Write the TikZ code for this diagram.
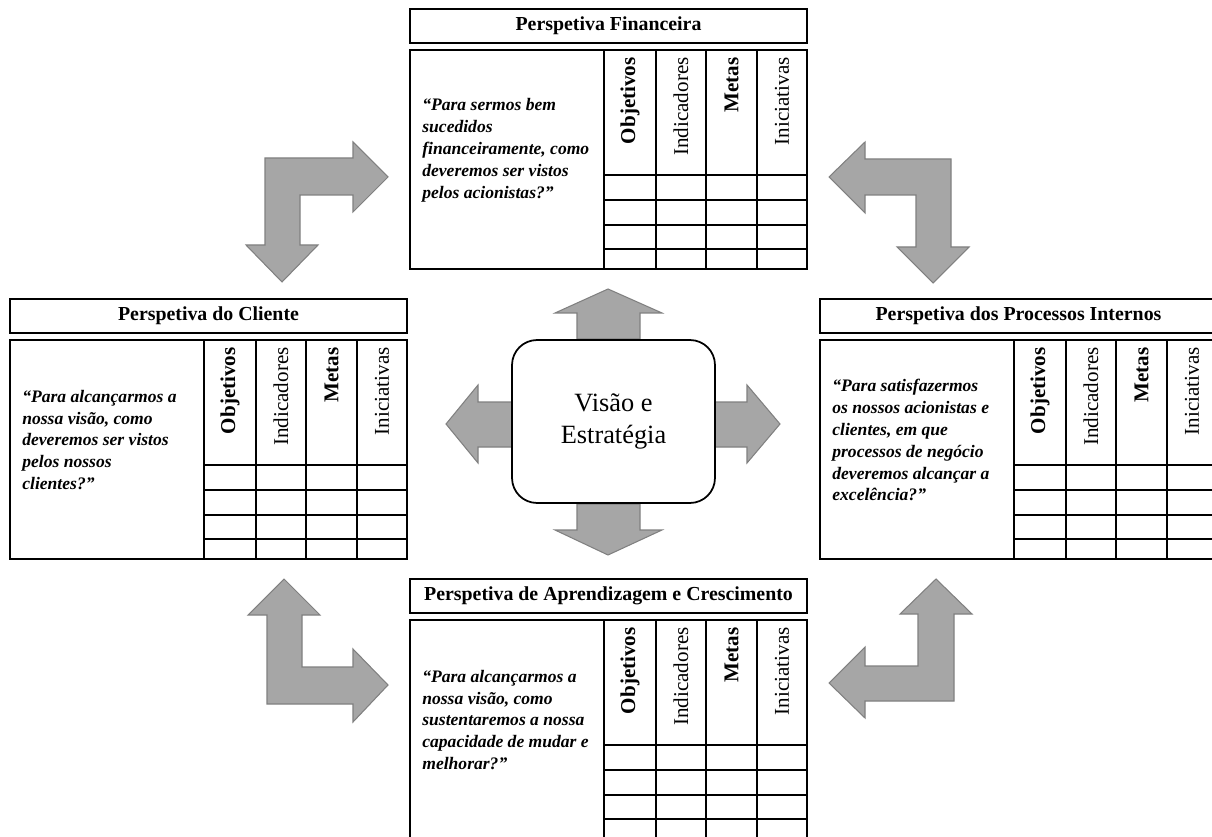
\documentclass[tikz,border=0pt]{standalone}
\usepackage{fontspec}
\setmainfont{Liberation Serif}

% one perspective: name, x, y (top of title box), title, question
\newcommand{\painel}[5]{%
  \begin{scope}[shift={(#2,#3)}]
    \node[titulo] (#1) at (198.5,17) {#4};
    \draw[caixa] (0,41) rectangle (397,260);
    \node[pergunta] (#1-q) at (12,141) {#5};
    \foreach \x in {194,246,296,347}
      \draw[grelha] (\x,41) -- (\x,260);
    \foreach \y in {166,191,216,240}
      \draw[grelha] (194,\y) -- (397,\y);
    \node[colunab] (#1-obj) at (220,48) {Objetivos};
    \node[coluna] (#1-ind) at (271,48) {Indicadores};
    \node[colunab] (#1-met) at (321.5,48) {Metas};
    \node[coluna] (#1-ini) at (372,48) {Iniciativas};
  \end{scope}}

\begin{document}
\begin{tikzpicture}[x=0.02cm,y=-0.02cm,
  titulo/.style={draw,line width=0.8pt,minimum width=7.94cm,minimum height=0.68cm,
    inner sep=0pt,font=\fontsize{11.3}{13}\selectfont\bfseries},
  caixa/.style={line width=1.4pt},
  grelha/.style={line width=1.1pt},
  pergunta/.style={anchor=west,align=left,inner sep=0pt,
    font=\fontsize{10}{12.5}\selectfont\bfseries\itshape},
  coluna/.style={rotate=90,anchor=east,inner sep=0pt,font=\fontsize{12}{14}\selectfont},
  colunab/.style={coluna,font=\fontsize{12}{14}\selectfont\bfseries},
  seta/.style={fill=black!35,draw=black!50,line width=0.6pt,line join=miter}]
  \useasboundingbox (0,0) rectangle (1212,837);
  \clip (0,0) rectangle (1212,837);

  % arrows round the centre
  \draw[seta] (577,339) -- (577,313) -- (555,313) -- (608,289) -- (662,313) -- (640,313) -- (640,339) -- cycle;
  \draw[seta] (577,504) -- (577,530) -- (555,530) -- (608,555) -- (662,530) -- (640,530) -- (640,504) -- cycle;
  \draw[seta] (513,402) -- (478,402) -- (478,385) -- (446,424) -- (478,463) -- (478,447) -- (513,447) -- cycle;
  \draw[seta] (714,402) -- (747,402) -- (747,385) -- (780,424) -- (747,463) -- (747,447) -- (714,447) -- cycle;

  \node[draw,fill=white,rounded corners=0.5cm,minimum width=4.06cm,minimum height=3.26cm,
    line width=1pt,align=center,font=\fontsize{15}{18}\selectfont] (visao) at (613.5,421.5)
    {Visão e\\Estratégia};

  % corner arrows
  \draw[seta] (265,158) -- (353,158) -- (353,142) -- (388,177) -- (353,212) -- (353,195)
    -- (300,195) -- (300,245) -- (318,245) -- (282,282) -- (246,245) -- (265,245) -- cycle;
  \draw[seta] (951,159) -- (865,159) -- (865,142) -- (829,177) -- (865,213) -- (865,195)
    -- (916,195) -- (916,247) -- (897,247) -- (933,283) -- (969,247) -- (951,247) -- cycle;
  \draw[seta] (267,704) -- (267,615) -- (248,615) -- (284,579) -- (320,615) -- (302,615)
    -- (302,667) -- (353,667) -- (353,649) -- (388,685) -- (353,722) -- (353,704) -- cycle;
  \draw[seta] (954,701) -- (954,614) -- (972,614) -- (936,579) -- (900,614) -- (918,614)
    -- (918,666) -- (865,666) -- (865,647) -- (829,683) -- (865,718) -- (865,701) -- cycle;

  % the four perspectives
  \painel{fin}{410}{9}{Perspetiva Financeira}
    {“Para sermos bem\\sucedidos\\financeiramente, como\\deveremos ser vistos\\pelos acionistas?”}
  \painel{cli}{10}{299}{Perspetiva do Cliente}
    {“Para alcançarmos a\\nossa visão, como\\deveremos ser vistos\\pelos nossos\\clientes?”}
  \painel{int}{820}{299}{Perspetiva dos Processos Internos}
    {“Para satisfazermos\\os nossos acionistas e\\clientes, em que\\processos de negócio\\deveremos alcançar a\\excelência?”}
  \painel{apr}{410}{579}{Perspetiva de Aprendizagem e Crescimento}
    {“Para alcançarmos a\\nossa visão, como\\sustentaremos a nossa\\capacidade de mudar e\\melhorar?”}
\end{tikzpicture}
\end{document}
